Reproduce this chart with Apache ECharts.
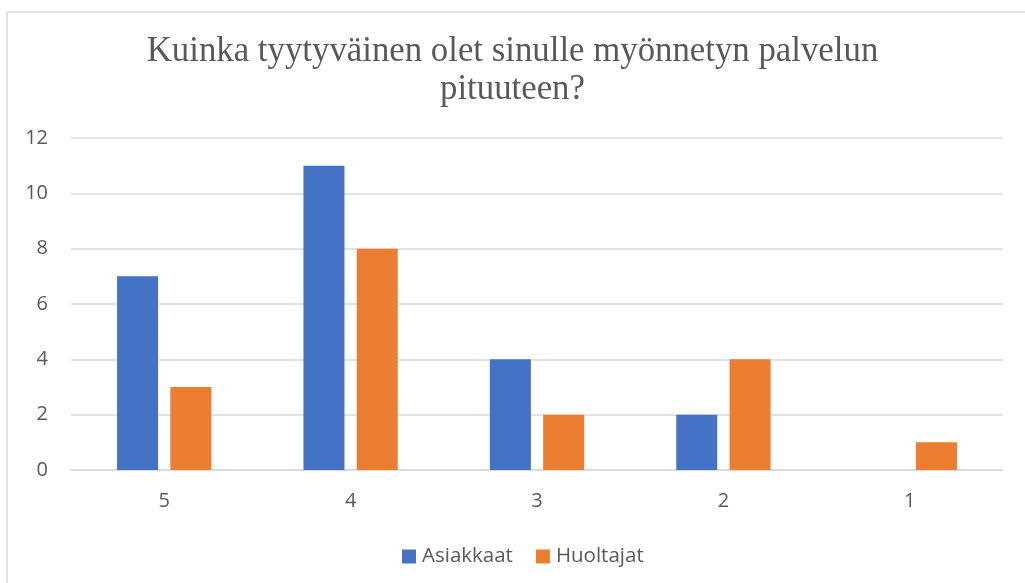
<!DOCTYPE html>
<html><head><meta charset="utf-8">
<script src="https://cdn.jsdelivr.net/npm/echarts@6/dist/echarts.min.js"></script>
<style>html,body{margin:0;padding:0;background:#fff}#c{width:1025px;height:583px}</style>
</head><body><div id="c"></div>
<script>
const titleText = 'Kuinka tyytyväinen olet sinulle myönnetyn palvelun\npituuteen?';
const categories = ['5', '4', '3', '2', '1'];
const seriesNames = ['Asiakkaat', 'Huoltajat'];
const asiakkaat = [7, 11, 4, 2, 0];
const huoltajat = [3, 8, 2, 4, 1];
const yTicks = [0, 2, 4, 6, 8, 10, 12];

const chart = echarts.init(document.getElementById('c'), null, {renderer: 'canvas'});
const labelFont = '"Open Sans", "Noto Sans", sans-serif';
chart.setOption({
  animation: false,
  color: ['#4472C4', '#ED7D31'],
  title: {
    text: titleText, left: 'center', top: 28, padding: [5, 5, 5, 29],
    textStyle: {fontFamily: '"Liberation Serif", serif', fontSize: 34.8, fontWeight: 'normal', color: '#595959', lineHeight: 38}
  },
  graphic: [
    {type: 'line', shape: {x1: 7, y1: 12, x2: 1025, y2: 12}, style: {stroke: '#d9d9d9', lineWidth: 1.5}},
    {type: 'line', shape: {x1: 7, y1: 12, x2: 7, y2: 583}, style: {stroke: '#d9d9d9', lineWidth: 1.5}}
  ],
  legend: {
    data: seriesNames, top: 541, left: 397, itemWidth: 14, itemHeight: 14, itemGap: 23,
    icon: 'rect',
    textStyle: {fontFamily: labelFont, fontSize: 20.5, color: '#595959', padding: [0, 0, 0, 1]}
  },
  grid: {left: 71, right: 22, top: 138, bottom: 113, containLabel: false},
  xAxis: {
    type: 'category', data: categories,
    axisLine: {lineStyle: {color: '#d9d9d9', width: 1.5}},
    axisTick: {show: false},
    axisLabel: {fontFamily: labelFont, fontSize: 20, color: '#595959', margin: 21}
  },
  yAxis: {
    type: 'value', min: 0, max: 12, interval: 2,
    axisLine: {show: false}, axisTick: {show: false},
    splitLine: {lineStyle: {color: '#d9d9d9', width: 1.5}},
    axisLabel: {fontFamily: labelFont, fontSize: 20, color: '#595959', margin: 23,
      formatter: v => yTicks.includes(v) ? String(v) : ''}
  },
  series: [
    {name: seriesNames[0], type: 'bar', data: asiakkaat, barWidth: 41, barGap: '30%'},
    {name: seriesNames[1], type: 'bar', data: huoltajat, barWidth: 41, barGap: '30%'}
  ]
});
</script></body></html>
